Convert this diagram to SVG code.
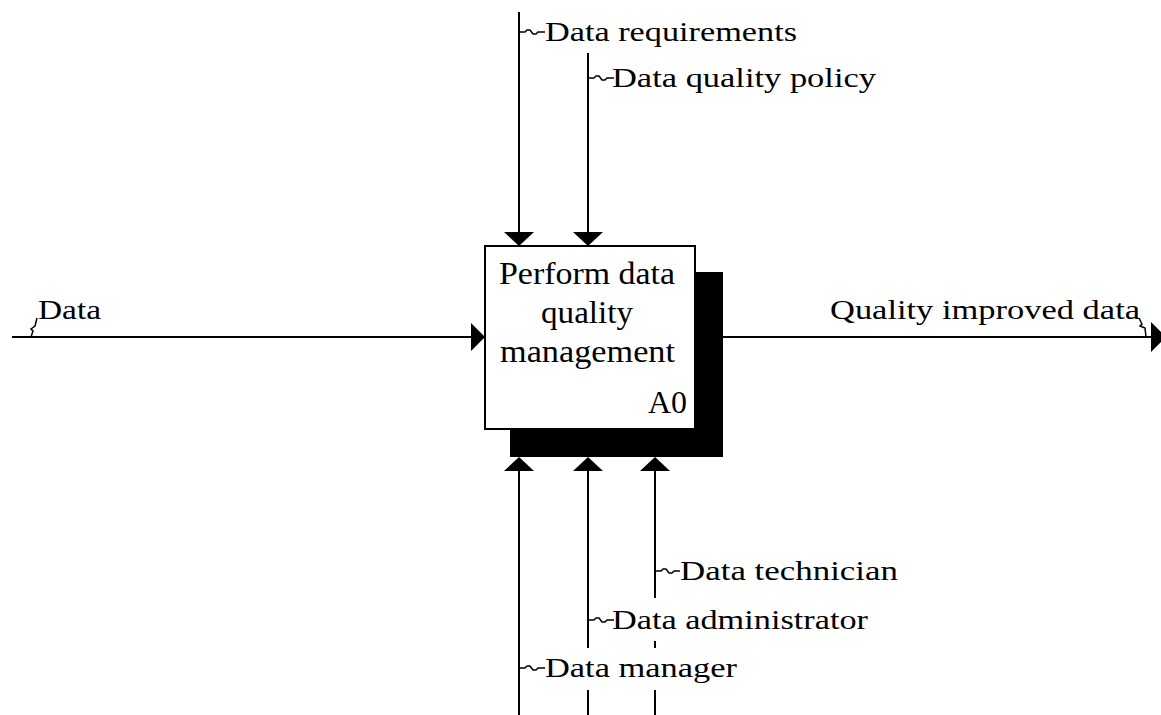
<svg xmlns="http://www.w3.org/2000/svg" width="1161" height="715" viewBox="0 0 1161 715">
<style>
.ln{stroke:#000;stroke-width:2;fill:none}
.sq{stroke:#000;stroke-width:1.5;fill:none}
.lbl{font-family:"Liberation Serif",serif;font-size:27px;fill:#000}
.bt{font-family:"Liberation Serif",serif;font-size:32px;fill:#000}
.ah{fill:#000}
.bg{fill:#fff}
</style>
<rect width="1161" height="715" fill="#fff"/>
<g id="connectors">
<line class="ln" x1="12" y1="337" x2="473" y2="337"/>
<polygon class="ah" points="471,323 485,337 471,351"/>
<line class="ln" x1="723" y1="337" x2="1153" y2="337"/>
<polygon class="ah" points="1151,322 1166,337 1151,352"/>
<line class="ln" x1="519" y1="12" x2="519" y2="234"/>
<polygon class="ah" points="504,232 534,232 519,246"/>
<line class="ln" x1="588" y1="53" x2="588" y2="234"/>
<polygon class="ah" points="573,232 603,232 588,246"/>
<line class="ln" x1="519" y1="469" x2="519" y2="715"/>
<polygon class="ah" points="504,471 534,471 519,457"/>
<line class="ln" x1="588" y1="469" x2="588" y2="715"/>
<polygon class="ah" points="573,471 603,471 588,457"/>
<line class="ln" x1="655" y1="469" x2="655" y2="715"/>
<polygon class="ah" points="640,471 670,471 655,457"/>
</g>
<g id="node-A0">
<rect x="510" y="272" width="213" height="185" fill="#000"/>
<rect x="485" y="246" width="210" height="183" fill="#fff" stroke="#000" stroke-width="2"/>
<text class="bt" x="499" y="284" textLength="176" lengthAdjust="spacingAndGlyphs">Perform data</text>
<text class="bt" x="541" y="323" textLength="92" lengthAdjust="spacingAndGlyphs">quality</text>
<text class="bt" x="500" y="362" textLength="175" lengthAdjust="spacingAndGlyphs">management</text>
<text class="bt" x="648" y="413" textLength="39" lengthAdjust="spacingAndGlyphs">A0</text>
</g>
<g id="label-data-requirements">
<path class="sq" d="M520 32 h5 l2 -2 h3 l3 4 h3 l2 -2 h7"/>
<text class="lbl" x="545" y="41" textLength="252" lengthAdjust="spacingAndGlyphs">Data requirements</text>
</g>
<g id="label-data-quality-policy">
<path class="sq" d="M589 78 h5 l2 -2 h3 l3 4 h3 l2 -2 h7"/>
<text class="lbl" x="612" y="87" textLength="264" lengthAdjust="spacingAndGlyphs">Data quality policy</text>
</g>
<g id="label-data">
<path class="sq" d="M31 337 l2 -6 l-2 -2 l4 -3 l2 -8"/>
<text class="lbl" x="38" y="319" textLength="63" lengthAdjust="spacingAndGlyphs">Data</text>
</g>
<g id="label-quality-improved-data">
<path class="sq" d="M1139 318 l3 6 l-2 2 l5 2 l1 9"/>
<text class="lbl" x="830" y="319" textLength="310" lengthAdjust="spacingAndGlyphs">Quality improved data</text>
</g>
<g id="label-data-technician">
<path class="sq" d="M656 571 h5 l2 -2 h3 l3 4 h3 l2 -2 h6"/>
<text class="lbl" x="680" y="580" textLength="218" lengthAdjust="spacingAndGlyphs">Data technician</text>
</g>
<g id="label-data-administrator">
<rect class="bg" x="590" y="598" width="280" height="43"/>
<path class="sq" d="M589 620 h5 l2 -2 h3 l3 4 h3 l2 -2 h7"/>
<text class="lbl" x="612" y="629" textLength="256" lengthAdjust="spacingAndGlyphs">Data administrator</text>
</g>
<g id="label-data-manager">
<rect class="bg" x="521" y="648" width="220" height="42"/>
<path class="sq" d="M520 668 h5 l2 -2 h3 l3 4 h3 l2 -2 h7"/>
<text class="lbl" x="545" y="677" textLength="192" lengthAdjust="spacingAndGlyphs">Data manager</text>
</g>
</svg>
